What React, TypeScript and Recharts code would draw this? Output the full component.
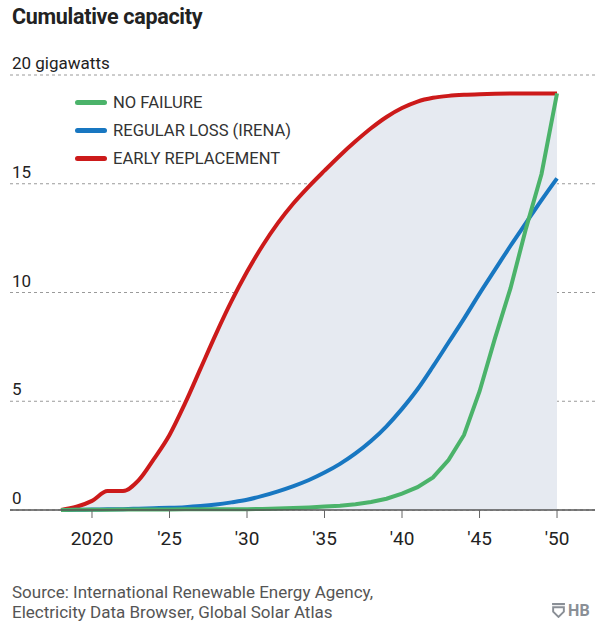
import React from 'react';
import { ComposedChart, Area, Line, XAxis, YAxis, CartesianGrid } from 'recharts';

const years = [
  2018, 2019, 2020, 2021, 2022, 2023, 2024, 2025, 2026, 2027, 2028,
  2029, 2030, 2031, 2032, 2033, 2034, 2035, 2036, 2037, 2038, 2039,
  2040, 2041, 2042, 2043, 2044, 2045, 2046, 2047, 2048, 2049, 2050,
];

// gigawatts
const noFailure = [
  0, 0.01, 0.01, 0.01, 0.02, 0.02, 0.02, 0.02, 0.03, 0.03, 0.03,
  0.04, 0.04, 0.05, 0.07, 0.09, 0.12, 0.16, 0.2, 0.26, 0.37, 0.52,
  0.75, 1.05, 1.5, 2.3, 3.45, 5.45, 7.9, 10.2, 12.95, 15.45, 19.15,
];
const regularLoss = [
  0, 0.01, 0.02, 0.03, 0.04, 0.06, 0.08, 0.1, 0.13, 0.18, 0.25,
  0.35, 0.47, 0.65, 0.86, 1.1, 1.38, 1.72, 2.12, 2.6, 3.17, 3.85,
  4.65, 5.55, 6.6, 7.7, 8.8, 9.95, 11.05, 12.15, 13.2, 14.25, 15.25,
];
const earlyReplacement = [
  0, 0.15, 0.42, 0.87, 0.87, 1.36, 2.35, 3.45, 4.9, 6.5, 8.1,
  9.6, 10.95, 12.15, 13.2, 14.1, 14.88, 15.6, 16.3, 16.95, 17.55, 18.07,
  18.48, 18.78, 18.95, 19.04, 19.09, 19.12, 19.14, 19.15, 19.15, 19.15, 19.15,
];

const xTicks = [2020, 2025, 2030, 2035, 2040, 2045, 2050];
const xTickLabels = ['2020', "'25", "'30", "'35", "'40", "'45", "'50"];
const yTicks = [0, 5, 10, 15, 20];
const yTickLabels = ['0', '5', '10', '15', '20 gigawatts'];

const legendItems = [
  { label: 'NO FAILURE', color: '#4bb36a' },
  { label: 'REGULAR LOSS (IRENA)', color: '#1877c1' },
  { label: 'EARLY REPLACEMENT', color: '#cc1a1a' },
];

const data = years.map((year, i) => ({
  year,
  noFailure: noFailure[i],
  regularLoss: regularLoss[i],
  earlyReplacement: earlyReplacement[i],
}));

const FONT = 'Roboto, "Noto Sans", sans-serif';

const XTick = (props: any) => {
  const { x, y, payload } = props;
  const idx = xTicks.indexOf(payload.value);
  return (
    <text x={x} y={y + 25} textAnchor="middle" fontSize={19} fill="#222" fontFamily={FONT}>
      {xTickLabels[idx]}
    </text>
  );
};

const YTick = (props: any) => {
  const { y, payload } = props;
  const idx = yTicks.indexOf(payload.value);
  return (
    <text x={12} y={y - 6} textAnchor="start" fontSize={17} fill="#222" fontFamily={FONT}>
      {yTickLabels[idx]}
    </text>
  );
};

export default function App() {
  return (
    <div
      style={{
        position: 'absolute',
        left: 0,
        top: 0,
        width: 595,
        height: 621,
        background: '#fff',
        fontFamily: FONT,
        overflow: 'hidden',
      }}
    >
      <div style={{ position: 'absolute', left: 12, top: 4, fontSize: 21.5, fontWeight: 700, color: '#222', letterSpacing: -0.3 }}>
        Cumulative capacity
      </div>

      <ComposedChart
        width={595}
        height={621}
        data={data}
        margin={{ top: 75, right: 0, left: 9, bottom: 71 }}
      >
        <CartesianGrid
          horizontal
          vertical={false}
          stroke="#9a9a9a"
          strokeDasharray="3 3"
        />
        <XAxis
          dataKey="year"
          type="number"
          domain={[2014.71, 2052.45]}
          allowDataOverflow
          ticks={xTicks}
          tick={<XTick />}
          tickSize={8}
          tickLine={{ stroke: '#666' }}
          axisLine={{ stroke: '#555', strokeWidth: 1.5 }}
          height={40}
        />
        <YAxis
          domain={[0, 20]}
          ticks={yTicks}
          width={1}
          axisLine={false}
          tickLine={false}
          tick={<YTick />}
          interval={0}
        />
        <Area
          type="monotone"
          dataKey="earlyReplacement"
          stroke="none"
          fill="#e6eaf1"
          fillOpacity={1}
          isAnimationActive={false}
        />
        <Line
          type="monotone"
          dataKey="earlyReplacement"
          stroke="#cc1a1a"
          strokeWidth={4}
          dot={false}
          isAnimationActive={false}
        />
        <Line
          type="monotone"
          dataKey="regularLoss"
          stroke="#1877c1"
          strokeWidth={4}
          dot={false}
          isAnimationActive={false}
        />
        <Line
          type="linear"
          dataKey="noFailure"
          stroke="#4bb36a"
          strokeWidth={4}
          dot={false}
          isAnimationActive={false}
        />
      </ComposedChart>

      <div style={{ position: 'absolute', left: 75, top: 88 }}>
        {legendItems.map((item) => (
          <div key={item.label} style={{ display: 'flex', alignItems: 'center', height: 28 }}>
            <div style={{ width: 32, height: 5, borderRadius: 3, background: item.color, marginRight: 6 }} />
            <span style={{ fontSize: 16.6, color: '#333' }}>{item.label}</span>
          </div>
        ))}
      </div>

      <div style={{ position: 'absolute', left: 12, top: 582, fontSize: 17, color: '#555', lineHeight: '20px' }}>
        Source: International Renewable Energy Agency,
        <br />
        Electricity Data Browser, Global Solar Atlas
      </div>

      <div style={{ position: 'absolute', right: 5, top: 601, display: 'flex', alignItems: 'center', color: '#8a8f96' }}>
        <svg width={13} height={15} viewBox="0 0 12 14" style={{ marginRight: 3 }}>
          <rect x={0} y={0} width={12} height={2} fill="#8a8f96" />
          <path d="M1 4 H11 V8 L6 13 L1 8 Z" fill="none" stroke="#8a8f96" strokeWidth={1.8} />
        </svg>
        <span style={{ fontSize: 16, fontWeight: 700, letterSpacing: 0.3 }}>HB</span>
      </div>
    </div>
  );
}
